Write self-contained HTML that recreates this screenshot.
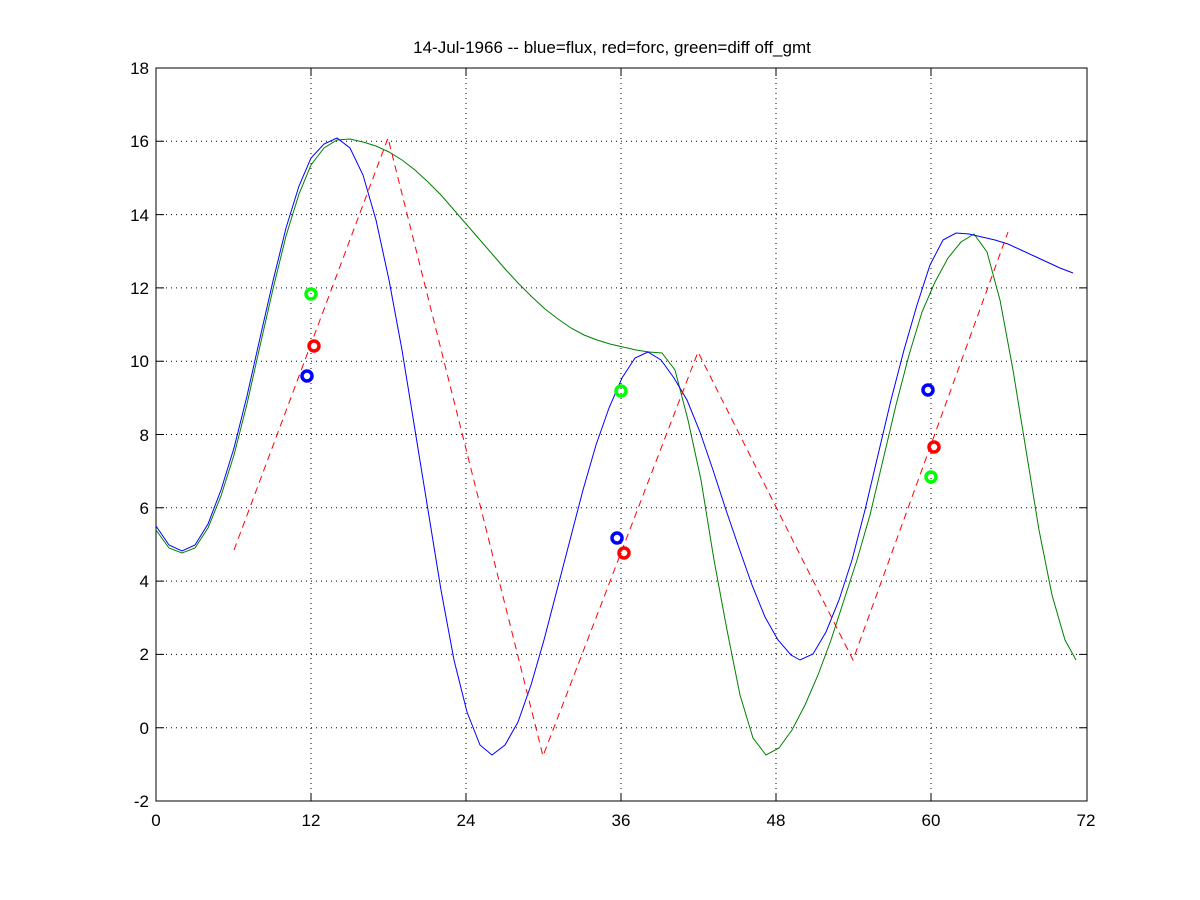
<!DOCTYPE html>
<html><head><style>body{margin:0;background:#fff}svg{display:block}text{font-family:"Liberation Sans",sans-serif;font-size:17px}</style></head><body>
<svg width="1200" height="900" xmlns="http://www.w3.org/2000/svg">
<rect width="1200" height="900" fill="#fff"/>
<g stroke="#000" stroke-width="1" stroke-dasharray="1,4">
<line x1="311" y1="68" x2="311" y2="801"/><line x1="466" y1="68" x2="466" y2="801"/><line x1="621" y1="68" x2="621" y2="801"/><line x1="776" y1="68" x2="776" y2="801"/><line x1="931" y1="68" x2="931" y2="801"/>
<line x1="156" y1="727.7" x2="1087" y2="727.7"/><line x1="156" y1="654.4" x2="1087" y2="654.4"/><line x1="156" y1="581.1" x2="1087" y2="581.1"/><line x1="156" y1="507.8" x2="1087" y2="507.8"/><line x1="156" y1="434.5" x2="1087" y2="434.5"/><line x1="156" y1="361.2" x2="1087" y2="361.2"/><line x1="156" y1="287.9" x2="1087" y2="287.9"/><line x1="156" y1="214.6" x2="1087" y2="214.6"/><line x1="156" y1="141.3" x2="1087" y2="141.3"/>
</g>
<rect x="156" y="68" width="931" height="733" fill="none" stroke="#000"/>
<g stroke="#000">
<path d="M311 801v-8M466 801v-8M621 801v-8M776 801v-8M931 801v-8M311 68v8M466 68v8M621 68v8M776 68v8M931 68v8"/>
<path d="M156 727.7h8M156 654.4h8M156 581.1h8M156 507.8h8M156 434.5h8M156 361.2h8M156 287.9h8M156 214.6h8M156 141.3h8M1087 727.7h-8M1087 654.4h-8M1087 581.1h-8M1087 507.8h-8M1087 434.5h-8M1087 361.2h-8M1087 287.9h-8M1087 214.6h-8M1087 141.3h-8"/>
</g>
<g text-anchor="middle">
<text x="156" y="826">0</text><text x="311" y="826">12</text><text x="466" y="826">24</text><text x="621" y="826">36</text><text x="776" y="826">48</text><text x="931" y="826">60</text><text x="1086" y="826">72</text>
<text x="612" y="53">14-Jul-1966 -- blue=flux, red=forc, green=diff off_gmt</text>
</g>
<g text-anchor="end">
<text x="149" y="807">-2</text><text x="149" y="734">0</text><text x="149" y="660">2</text><text x="149" y="587">4</text><text x="149" y="514">6</text><text x="149" y="441">8</text><text x="149" y="367">10</text><text x="149" y="294">12</text><text x="149" y="221">14</text><text x="149" y="147">16</text><text x="149" y="74">18</text>
</g>
<polyline fill="none" stroke="#008000" points="156,530 169,548 182,553 195,548 208,528 221,496 234,455 247,404 260,346 273,289 286,236 299,194 311,165 324,148 337,140 350,139 363,142 376,146 389,152 402,160 415,170 428,182 441,195 454,210 467,225 480,240 493,255 506,270 519,284 532,297 545,309 558,319 571,328 584,335 597,340 610,344 623,347 636,350 649,352 662,353 675,370 688,420 701,480 714,560 727,630 740,695 753,738 766,755 779,748 792,730 805,705 818,675 831,640 844,600 857,560 870,515 883,460 896,405 909,355 922,312 935,282 948,258 961,242 974,234 987,252 1000,300 1013,370 1026,450 1039,530 1052,595 1065,640 1076,660"/>
<polyline fill="none" stroke="#0000ff" points="156,526 169,545 182,551 195,545 208,524 221,490 234,448 247,396 260,338 273,281 286,228 299,186 311,158 324,144 337,138 350,148 363,175 376,220 389,280 402,350 415,430 428,510 441,590 454,660 467,712 480,745 492,755 505,745 518,722 531,685 544,640 557,590 570,540 583,490 596,445 609,408 622,378 635,358 648,352 661,360 674,378 687,400 700,432 713,470 726,510 739,548 752,585 765,617 778,640 791,655 800,660 813,654 826,632 839,600 852,560 865,510 878,455 891,400 904,350 917,305 930,265 943,240 956,233 969,234 982,237 995,240 1008,244 1021,250 1034,256 1047,262 1060,268 1073,273"/>
<polyline fill="none" stroke="#ff0000" stroke-dasharray="7,5" points="234,550 388,138 543,756 698,352 853,660 1008,232"/>
<g fill="none" stroke-width="3.5">
<circle cx="311" cy="294" r="5" stroke="#00ff00"/><circle cx="621" cy="391" r="5" stroke="#00ff00"/><circle cx="931" cy="477" r="5" stroke="#00ff00"/>
<circle cx="314" cy="346" r="5" stroke="#ff0000"/><circle cx="624" cy="553" r="5" stroke="#ff0000"/><circle cx="934" cy="447" r="5" stroke="#ff0000"/>
<circle cx="307" cy="376" r="5" stroke="#0000ff"/><circle cx="617" cy="538" r="5" stroke="#0000ff"/><circle cx="928" cy="390" r="5" stroke="#0000ff"/>
</g>
</svg>
</body></html>
